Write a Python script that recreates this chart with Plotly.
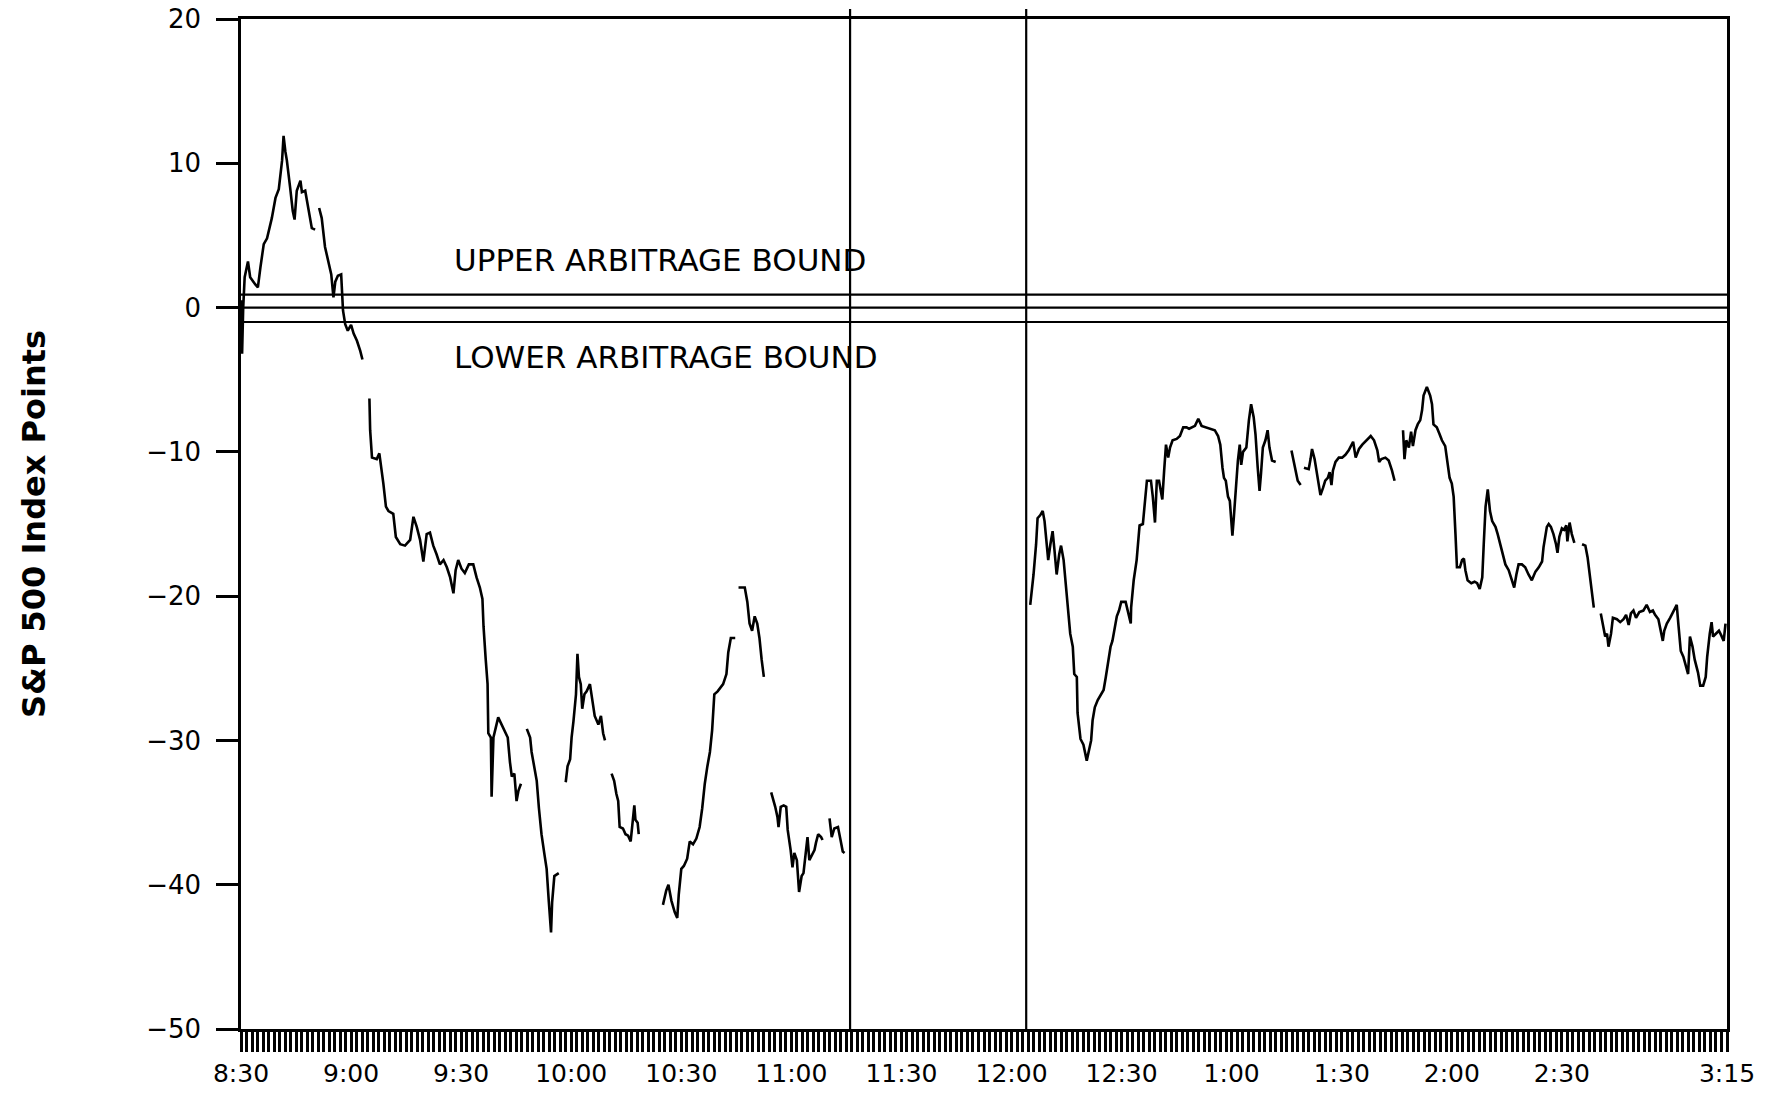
import plotly.graph_objects as go

# minutes after 8:30 (Chicago time), None marks a break in the trace
am_minutes = [0.0, 0.3, 0.6, 1.0, 1.9, 2.5, 3.9, 4.6, 5.3, 6.2, 7.1, 8.4, 9.4, 10.3, 11.2, 11.6, 12.1, 12.5,
              13.4, 14.1, 14.6, 15.2, 16.2, 16.6, 17.5, 18.4, 19.3, 20.2, None,
              21.3, 22.0, 22.9, 23.9, 24.6, 25.2, 25.7, 26.4, 27.3, 27.8, 28.4, 29.1, 30.0, 30.7, 31.6, 32.5, 33.1, None,
              35.0, 35.2, 35.7, 37.0, 37.7, 38.2, 38.8, 39.5, 40.2, 41.5, 42.2, 43.4, 44.7, 46.1, 47.0, 47.9,
              48.8, 49.7, 50.6, 51.5, 52.4, 53.3, 54.2, 55.2, 56.1, 57.0, 57.9, 58.5, 59.2, 60.1, 61.0, 62.1,
              63.3, 64.2, 65.1, 65.8, 66.1, 66.7, 67.2, 67.4, 68.1, 68.3, 68.8, 70.1, 71.0, 72.0, 72.7, 73.3,
              73.8, 74.5, 75.1, 75.6, 76.3, None,
              77.9, 78.8, 79.2, 79.9, 80.6, 81.2, 81.9, 82.7, 83.3, 83.9, 84.5, 84.8, 85.4, 86.6, None,
              88.5, 89.0, 89.7, 90.1, 90.6, 91.3, 91.7, 92.1, 92.6, 93.0, 93.6, 94.2, 95.1, 95.8, 96.4, 97.4,
              98.1, 98.7, 99.2, None,
              101.0, 101.7, 102.3, 102.8, 103.2, 104.1, 104.8, 105.5, 106.2, 106.6, 107.2, 107.5, 108.1, 108.4, None,
              115.0, 115.9, 116.5, 117.3, 118.2, 118.9, 119.3, 120.0, 120.7, 121.6, 122.3, 123.2, 124.1, 125.0,
              125.7, 126.4, 127.1, 127.8, 128.4, 129.0, 129.9, 131.4, 132.3, 132.8, 133.5, 134.7, None,
              135.6, 137.3, 138.0, 138.6, 139.3, 140.0, 140.7, 141.3, 141.9, 142.5, None,
              144.5, 145.0, 145.6, 146.2, 146.5, 147.1, 147.9, 148.6, 149.0, 149.8, 150.3, 150.8, 151.5, 152.1,
              152.8, 153.3, 153.9, 154.4, 154.9, 156.3, 156.7, 157.3, 158.1, 158.5, None,
              160.4, 161.0, 161.7, 162.7, 163.4, 164.0, 164.5]
am_premium = [0.5, -3.2, 0.0, 2.1, 3.2, 2.1, 1.6, 1.4, 2.8, 4.4, 4.8, 6.2, 7.6, 8.2, 10.2, 11.9, 10.8, 10.2,
              8.3, 6.7, 6.1, 8.1, 8.8, 8.0, 8.1, 6.9, 5.5, 5.4, None,
              6.9, 6.2, 4.2, 3.0, 2.3, 0.7, 1.8, 2.2, 2.3, -0.2, -1.15, -1.6, -1.2, -1.8, -2.3, -3.0, -3.6, None,
              -6.3, -8.5, -10.4, -10.5, -10.1, -11.0, -12.2, -13.8, -14.1, -14.3, -15.9, -16.4, -16.5, -16.1, -14.5, -15.2,
              -16.1, -17.6, -15.7, -15.6, -16.5, -17.1, -17.8, -17.5, -18.0, -18.7, -19.8, -18.2, -17.5, -18.1, -18.4, -17.8,
              -17.8, -18.7, -19.4, -20.2, -22.1, -24.4, -26.1, -29.5, -29.8, -33.9, -29.8, -28.4, -28.9, -29.5, -29.8, -31.5,
              -32.5, -32.3, -34.2, -33.5, -33.0, None,
              -29.2, -29.8, -30.8, -31.8, -32.8, -34.7, -36.5, -37.9, -38.9, -41.2, -43.3, -41.2, -39.4, -39.2, None,
              -32.9, -31.8, -31.3, -29.8, -28.7, -26.8, -24.0, -25.6, -26.1, -27.8, -26.8, -26.6, -26.1, -27.3, -28.3, -28.9,
              -28.3, -29.5, -30.0, None,
              -32.3, -32.8, -33.7, -34.2, -36.0, -36.1, -36.5, -36.6, -37.0, -36.0, -34.5, -35.5, -35.7, -36.5, None,
              -41.4, -40.4, -40.0, -41.1, -41.9, -42.3, -40.7, -38.9, -38.7, -38.2, -37.0, -37.2, -36.8, -36.0,
              -34.7, -33.0, -31.8, -30.8, -29.3, -26.8, -26.6, -26.1, -25.4, -23.9, -22.9, -22.9, None,
              -19.4, -19.4, -20.4, -21.9, -22.4, -21.4, -21.9, -22.9, -24.4, -25.6, None,
              -33.6, -34.0, -34.6, -35.3, -36.0, -34.6, -34.5, -34.6, -36.2, -37.6, -38.8, -37.8, -38.3, -40.5,
              -39.4, -39.2, -37.8, -36.7, -38.3, -37.6, -37.1, -36.5, -36.7, -36.9, None,
              -35.4, -36.7, -36.1, -36.0, -36.9, -37.7, -37.8]

pm_minutes = [215.1, 215.5, 216.0, 216.7, 217.1, 217.8, 218.5, 219.0, 219.4, 220.0, 220.6, 221.2, 221.7, 222.3,
              223.0, 223.5, 224.2, 224.8, 225.5, 226.0, 226.7, 227.1, 227.8, 228.0, 228.8, 229.6, 230.5, 231.2,
              231.7, 232.1, 232.7, 233.5, 234.2, 235.1, 235.7, 236.4, 237.0, 237.5, 238.2, 238.7, 239.3, 239.9,
              241.1, 241.7, 242.5, 242.6, 243.3, 244.1, 244.4, 244.9, 245.8, 246.4, 246.9, 248.0, 248.5, 249.1,
              249.6, 250.2, 250.7, 251.1, 251.6, 252.1, 252.7, 253.2, 253.9, 255.0, 255.9, 256.8, 257.7, 258.4,
              260.0, 260.9, 261.8, 263.2, 264.5, 265.4, 266.3, 266.9, 267.5, 267.9, 268.4, 269.0, 269.5, 269.9,
              270.2, 270.6, 271.1, 271.7, 272.2, 272.6, 273.1, 274.0, 274.7, 275.3, 276.0, 276.5, 277.1, 277.6,
              278.0, 278.5, 279.2, 279.8, 280.3, 281.0, 282.0, None,
              286.3, 286.9, 287.4, 288.0, 288.8, None,
              289.7, 291.0, 291.5, 291.9, 292.6, 293.1, 293.5, 294.2, 294.9, 295.5, 296.2, 296.7, 297.2, 297.6,
              298.3, 299.2, 300.1, 301.0, 301.9, 303.1, 303.8, 304.7, 305.6, 306.8, 307.9, 308.8, 309.7, 310.2,
              310.8, 311.9, 312.8, 313.7, 314.4, None,
              316.7, 317.1, 317.6, 318.3, 318.9, 319.4, 320.1, 320.7, 321.4, 321.9, 322.3, 323.2, 324.1, 324.6,
              325.0, 325.9, 326.7, 327.3, 328.2, 328.7, 329.4, 330.0, 330.5, 331.0, 331.4, 332.2, 332.8, 333.3,
              333.7, 334.3, 335.3, 336.2, 336.9, 337.6, 338.3, 338.7, 339.2, 339.8, 340.4, 341.0, 341.9, 342.5,
              343.2, 344.0, 344.6, 345.5, 346.4, 347.0, 347.6, 348.2, 349.1, 350.0, 350.9, 351.8, 352.8, 353.7,
              354.6, 355.0, 355.9, 356.4, 357.0, 357.7, 358.4, 358.8, 359.3, 360.0, 360.6, 361.2, 361.5, 362.1,
              362.7, 363.4, None,
              365.5, 366.4, 367.0, 367.6, 368.2, 368.7, None,
              370.6, 371.2, 371.8, 372.3, 372.7, 373.4, 373.9, 375.0, 375.9, 376.8, 377.5, 378.2, 378.8, 379.5,
              380.2, 381.1, 382.2, 383.1, 384.0, 384.8, 385.4, 386.3, 386.9, 387.5, 387.9, 388.6, 389.5, 390.4,
              391.3, 391.8, 392.4, 393.1, 393.8, 394.4, 394.9, 395.6, 396.2, 397.1, 397.7, 398.5, 399.2, 399.6,
              400.3, 400.8, 401.2, 401.9, 402.8, 403.4, 404.1, 404.6]
pm_premium = [-20.6, -19.8, -18.5, -16.4, -14.6, -14.4, -14.1, -14.8, -16.1, -17.5, -16.4, -15.5, -16.8, -18.5,
              -17.1, -16.5, -17.5, -19.4, -21.2, -22.6, -23.5, -25.4, -25.6, -28.1, -29.9, -30.3, -31.4, -30.7,
              -30.0, -28.6, -27.7, -27.2, -26.9, -26.5, -25.6, -24.5, -23.5, -23.1, -21.9, -21.4, -21.0, -20.4,
              -20.4, -21.0, -21.9, -20.8, -18.9, -17.5, -16.4, -15.1, -15.0, -13.6, -12.0, -12.0, -13.1, -14.9,
              -12.0, -12.0, -12.7, -13.3, -11.3, -9.5, -10.4, -9.7, -9.2, -9.1, -8.9, -8.3, -8.3, -8.4,
              -8.2, -7.7, -8.2, -8.3, -8.4, -8.5, -8.9, -9.5, -11.1, -11.8, -12.0, -13.1, -13.4, -14.8,
              -15.8, -14.5, -12.7, -10.6, -9.5, -10.9, -10.0, -9.7, -7.8, -6.7, -7.6, -8.8, -11.1, -12.7,
              -11.5, -9.7, -9.2, -8.5, -9.7, -10.6, -10.7, None,
              -9.9, -10.6, -11.4, -12.0, -12.3, None,
              -11.1, -11.2, -10.5, -9.8, -10.5, -11.3, -12.0, -13.0, -12.5, -12.0, -11.8, -11.4, -12.3, -11.3,
              -10.7, -10.4, -10.4, -10.2, -9.9, -9.3, -10.4, -9.8, -9.5, -9.2, -8.9, -9.2, -9.9, -10.7,
              -10.5, -10.4, -10.6, -11.3, -12.0, None,
              -8.5, -10.5, -9.2, -9.7, -8.6, -9.6, -8.5, -8.1, -7.8, -7.1, -6.1, -5.5, -6.1, -6.7,
              -8.1, -8.3, -8.8, -9.2, -9.6, -10.6, -11.8, -12.2, -13.1, -15.7, -18.0, -18.0, -17.5, -17.4,
              -18.2, -18.9, -19.1, -19.0, -19.1, -19.5, -18.7, -16.4, -13.8, -12.6, -14.1, -14.8, -15.2, -15.7,
              -16.4, -17.3, -17.8, -18.2, -18.9, -19.4, -18.5, -17.8, -17.8, -18.0, -18.5, -18.9, -18.3, -18.0,
              -17.6, -16.6, -15.2, -15.0, -15.2, -15.7, -16.4, -17.0, -15.9, -15.3, -15.4, -15.1, -16.2, -14.9,
              -15.7, -16.3, None,
              -16.4, -16.5, -17.3, -18.5, -19.6, -20.8, None,
              -21.2, -22.1, -22.8, -22.6, -23.5, -22.6, -21.5, -21.6, -21.8, -21.6, -21.3, -22.0, -21.2, -21.0,
              -21.5, -21.1, -21.0, -20.6, -21.1, -21.0, -21.3, -21.6, -22.4, -23.1, -22.4, -21.9, -21.5, -21.1,
              -20.6, -22.1, -23.8, -24.2, -24.9, -25.4, -22.8, -23.5, -24.4, -25.3, -26.2, -26.2, -25.6, -24.2,
              -22.6, -21.8, -22.8, -22.6, -22.4, -22.7, -23.1, -21.9]

upper_bound = 0.9
lower_bound = -1.0
halt_start = 166   # 11:16
halt_end = 214     # 12:04

tick_minutes = [0, 30, 60, 90, 120, 150, 180, 210, 240, 270, 300, 330, 360, 405]
tick_labels = ['8:30', '9:00', '9:30', '10:00', '10:30', '11:00', '11:30', '12:00',
               '12:30', '1:00', '1:30', '2:00', '2:30', '3:15']

FONT = 'DejaVu Sans'

fig = go.Figure()
for xs, ys in [(am_minutes, am_premium), (pm_minutes, pm_premium)]:
    fig.add_trace(go.Scatter(x=xs, y=ys, mode='lines', connectgaps=False,
                             line=dict(color='black', width=2.6), showlegend=False, hoverinfo='skip'))

for yv in [upper_bound, 0, lower_bound]:
    fig.add_shape(type='line', xref='paper', yref='y', x0=0, x1=1, y0=yv, y1=yv,
                  line=dict(color='black', width=2.2))
for xv in [halt_start, halt_end]:
    fig.add_shape(type='line', xref='x', yref='paper', x0=xv, x1=xv, y0=0, y1=1.01,
                  line=dict(color='black', width=2.2))

fig.add_annotation(x=57.5, y=3.3, xref='x', yref='y', text='UPPER ARBITRAGE BOUND', showarrow=False,
                   xanchor='left', yanchor='middle', font=dict(family=FONT, size=31, color='black'))
fig.add_annotation(x=57.5, y=-3.4, xref='x', yref='y', text='LOWER ARBITRAGE BOUND', showarrow=False,
                   xanchor='left', yanchor='middle', font=dict(family=FONT, size=31, color='black'))

fig.update_xaxes(range=[0, 405], tickmode='array', tickvals=tick_minutes, ticktext=tick_labels,
                 showgrid=False, zeroline=False, showline=True, mirror=True, linecolor='black', linewidth=2.5,
                 ticks='outside', ticklen=20, tickwidth=2.5, tickcolor='black', ticklabelstandoff=0,
                 tickfont=dict(family=FONT, size=25, color='black'), automargin=False,
                 ticklabeloverflow='allow',
                 minor=dict(dtick=1.5, tick0=0, ticks='outside', ticklen=20, tickwidth=2.5, tickcolor='black',
                            showgrid=False))
fig.update_yaxes(range=[-50, 20], tickmode='linear', tick0=-50, dtick=10,
                 showgrid=False, zeroline=False, showline=True, mirror=True, linecolor='black', linewidth=2.5,
                 ticks='outside', ticklen=22, tickwidth=2.5, tickcolor='black', ticklabelstandoff=10,
                 tickfont=dict(family=FONT, size=26, color='black'), automargin=False,
                 ticklabeloverflow='allow',
                 title=dict(text='S&P 500 Index Points', standoff=91,
                            font=dict(family=FONT, size=32, color='black', weight='bold')))

# the page body adds an 8 px margin, so the figure is a little smaller than the window
fig.update_layout(width=1760, height=1079, margin=dict(l=233, r=41, t=11, b=58),
                  paper_bgcolor='white', plot_bgcolor='white', showlegend=False)

fig.write_html('out.html')
